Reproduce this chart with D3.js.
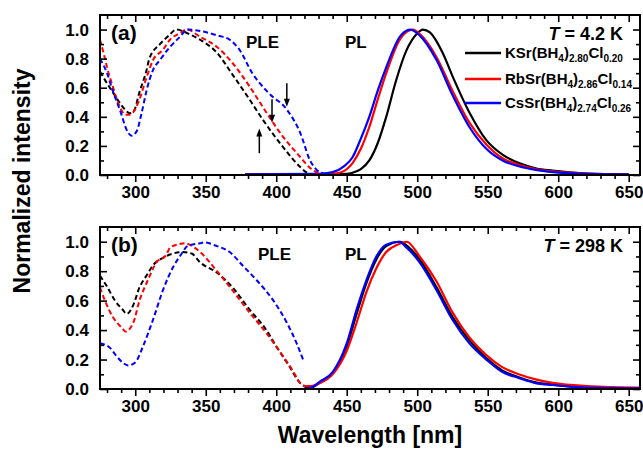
<!DOCTYPE html>
<html>
<head>
<meta charset="utf-8">
<script src="https://cdn.jsdelivr.net/npm/d3@7"></script>
<style>
  body { margin: 0; background: #fff; }
  svg { font-family: "Liberation Sans", Arial, sans-serif; font-weight: bold; }
</style>
</head>
<body>
<div id="chart"></div>
<script>
// ---- data ----
const seriesNames = ["KSr(BH4)2.80Cl0.20", "RbSr(BH4)2.86Cl0.14", "CsSr(BH4)2.74Cl0.26"];
const seriesColors = ["#000000", "#ff0000", "#0000ff"];

// panel (a) T = 4.2 K, PLE (dashed)
const pleA_K_wl = [275, 280, 284, 288, 292.7, 296, 299, 303, 308, 310, 317.5, 324, 329, 338, 346, 358, 369, 381, 390.5, 405, 417, 422, 428, 490];
const pleA_K_v  = [0.71, 0.63, 0.57, 0.51, 0.45, 0.425, 0.44, 0.57, 0.72, 0.80, 0.90, 0.96, 1.0, 0.97, 0.93, 0.84, 0.69, 0.52, 0.38, 0.19, 0.055, 0.015, 0.0, 0.0];
const pleA_Rb_wl = [275, 278, 280, 284, 289, 293, 296, 298.5, 303, 308, 312.6, 319.6, 324.6, 331.7, 336.6, 346, 358, 369, 381, 393, 405, 417, 424, 431, 436, 490];
const pleA_Rb_v  = [0.93, 0.82, 0.74, 0.61, 0.47, 0.415, 0.415, 0.43, 0.52, 0.67, 0.79, 0.86, 0.93, 0.975, 1.0, 0.95, 0.88, 0.77, 0.61, 0.43, 0.26, 0.124, 0.048, 0.01, 0.0, 0.0];
const pleA_Cs_wl = [275, 280, 284, 289, 295, 297.5, 301, 304.6, 308, 312.5, 317.5, 324.6, 331.7, 337, 346, 358, 367, 374, 383, 395, 407.5, 417, 424, 428.7, 434, 440, 490];
const pleA_Cs_v  = [0.80, 0.70, 0.58, 0.45, 0.29, 0.27, 0.30, 0.43, 0.58, 0.72, 0.79, 0.88, 0.95, 1.0, 0.99, 0.96, 0.93, 0.86, 0.70, 0.56, 0.45, 0.29, 0.10, 0.035, 0.01, 0.0, 0.0];

// panel (a) PL (solid)
const plA_K_wl = [378, 440, 450, 454, 460, 466, 472, 478, 485, 492.5, 499.6, 504, 509, 518, 525, 537, 549, 560.5, 572.6, 584.6, 596, 620, 650];
const plA_K_v  = [0.005, 0.005, 0.008, 0.015, 0.04, 0.10, 0.22, 0.40, 0.65, 0.86, 0.97, 1.0, 0.98, 0.84, 0.68, 0.43, 0.24, 0.14, 0.08, 0.045, 0.03, 0.01, 0.003];
const plA_Rb_wl = [378, 430, 440, 445, 454, 460, 466, 472, 478, 487.6, 494.6, 497, 501.7, 513.7, 525, 537, 549, 560.5, 572, 584, 596, 620, 650];
const plA_Rb_v  = [0.005, 0.005, 0.008, 0.015, 0.08, 0.18, 0.33, 0.52, 0.70, 0.93, 0.995, 1.0, 0.97, 0.81, 0.58, 0.36, 0.21, 0.115, 0.07, 0.04, 0.025, 0.01, 0.005];
const plA_Cs_wl = [378, 430, 440, 448, 454, 460, 466, 472, 478, 487.6, 495, 501.7, 513.7, 525, 537, 549, 560.5, 572, 584, 596, 620, 650];
const plA_Cs_v  = [0.005, 0.008, 0.02, 0.06, 0.12, 0.25, 0.40, 0.58, 0.74, 0.95, 1.0, 0.96, 0.79, 0.55, 0.33, 0.18, 0.10, 0.06, 0.035, 0.02, 0.008, 0.004];

// panel (b) T = 298 K, PLE (dashed)
const pleB_K_wl = [275, 280, 285.6, 291, 294, 298.6, 303, 308, 312.6, 319.6, 326.8, 333.9, 340, 346, 358, 369, 381, 393, 400, 409.6, 417, 420];
const pleB_K_v  = [0.77, 0.695, 0.60, 0.54, 0.51, 0.57, 0.69, 0.77, 0.84, 0.89, 0.92, 0.93, 0.92, 0.86, 0.79, 0.69, 0.54, 0.40, 0.29, 0.15, 0.04, 0.02];
const pleB_Rb_wl = [275, 278.5, 284, 291, 293, 298.6, 303, 309, 315, 322, 324.6, 331.7, 335, 342, 346, 358, 369, 381, 393, 405, 412, 417, 420];
const pleB_Rb_v  = [0.69, 0.60, 0.49, 0.41, 0.39, 0.45, 0.60, 0.74, 0.86, 0.91, 0.96, 0.985, 0.99, 0.96, 0.93, 0.80, 0.67, 0.52, 0.38, 0.22, 0.12, 0.04, 0.02];
const pleB_Cs_wl = [275, 282, 287, 291, 295, 300, 305.5, 312.6, 319.6, 327, 333, 337, 346, 349, 358, 367, 376, 386, 398, 407.5, 414.5, 419];
const pleB_Cs_v  = [0.31, 0.28, 0.22, 0.18, 0.16, 0.18, 0.29, 0.47, 0.67, 0.83, 0.92, 0.97, 0.99, 0.995, 0.97, 0.93, 0.84, 0.74, 0.60, 0.45, 0.31, 0.20];

// panel (b) PL (solid)
const plB_K_wl = [420, 425, 431, 440, 450, 457, 464, 471, 478, 488, 493, 501.7, 513.7, 525, 537, 549, 560.5, 572, 584, 596, 620, 650, 658];
const plB_K_v  = [0.01, 0.012, 0.045, 0.11, 0.29, 0.51, 0.72, 0.88, 0.97, 1.0, 0.97, 0.88, 0.69, 0.49, 0.33, 0.21, 0.125, 0.08, 0.045, 0.03, 0.012, 0.006, 0.006];
const plB_Rb_wl = [420, 425, 431, 440, 450, 457, 464, 471, 478, 486, 492.5, 501.7, 513.7, 525, 537, 549, 560, 572, 584, 596, 620, 652, 658];
const plB_Rb_v  = [0.02, 0.02, 0.04, 0.10, 0.26, 0.45, 0.66, 0.82, 0.93, 0.98, 1.0, 0.90, 0.73, 0.52, 0.35, 0.23, 0.15, 0.10, 0.065, 0.042, 0.02, 0.01, 0.01];
const plB_Cs_wl = [420, 425, 431, 440, 450, 457, 464, 471, 478, 487, 492.5, 501.7, 513.7, 525, 537, 549, 560.5, 572, 584, 596, 620, 650, 658];
const plB_Cs_v  = [0.0, 0.01, 0.05, 0.115, 0.31, 0.54, 0.74, 0.90, 0.98, 1.0, 0.96, 0.86, 0.67, 0.47, 0.31, 0.20, 0.115, 0.075, 0.04, 0.027, 0.01, 0.005, 0.005];

// arrows in panel (a)
const arrowWl = [388, 397, 407.5];
const arrowFrom = [0.15, 0.52, 0.63];
const arrowTo = [0.32, 0.36, 0.47];

const xTicks = [300, 350, 400, 450, 500, 550, 600, 650];
const yTicks = [0.0, 0.2, 0.4, 0.6, 0.8, 1.0];

// ---- layout ----
const width = 643, height = 450;
const svg = d3.select("#chart").append("svg")
  .attr("width", width).attr("height", height);

const x = d3.scaleLinear().domain([275, 658]).range([100, 640]);

const zip = (w, v) => w.map((d, i) => ({wl: d, v: v[i]}));

const panels = [
  {
    id: "a", top: 15, bottom: 175, label: "(a)", temp: "4.2 K", pleX: 246, legend: true,
    ple: [zip(pleA_K_wl, pleA_K_v), zip(pleA_Rb_wl, pleA_Rb_v), zip(pleA_Cs_wl, pleA_Cs_v)],
    pl: [zip(plA_K_wl, plA_K_v), zip(plA_Rb_wl, plA_Rb_v), zip(plA_Cs_wl, plA_Cs_v)]
  },
  {
    id: "b", top: 227, bottom: 389, label: "(b)", temp: "298 K", pleX: 258, legend: false,
    ple: [zip(pleB_K_wl, pleB_K_v), zip(pleB_Rb_wl, pleB_Rb_v), zip(pleB_Cs_wl, pleB_Cs_v)],
    pl: [zip(plB_K_wl, plB_K_v), zip(plB_Rb_wl, plB_Rb_v), zip(plB_Cs_wl, plB_Cs_v)]
  }
];

panels.forEach(p => {
  const y = d3.scaleLinear().domain([0, 1.1]).range([p.bottom, p.top]);
  const g = svg.append("g");

  svg.append("clipPath").attr("id", "clip-" + p.id)
    .append("rect").attr("x", 100).attr("y", p.top).attr("width", 540).attr("height", p.bottom - p.top);

  const line = d3.line().x(d => x(d.wl)).y(d => y(d.v)).curve(d3.curveMonotoneX);

  const curves = g.append("g").attr("clip-path", `url(#clip-${p.id})`).attr("fill", "none");
  // PL solid first, PLE dashed
  p.pl.forEach((s, i) => {
    curves.append("path").datum(s).attr("d", line)
      .attr("stroke", seriesColors[i]).attr("stroke-width", 2.2);
  });
  p.ple.forEach((s, i) => {
    curves.append("path").datum(s).attr("d", line)
      .attr("stroke", seriesColors[i]).attr("stroke-width", 2)
      .attr("stroke-dasharray", "5,3");
  });

  // axes: bottom ticks outward, the rest inward
  const minorX = d3.range(280, 660, 10).filter(t => t % 50);
  const minorY = [0.1, 0.3, 0.5, 0.7, 0.9];
  const bottomAxis = d3.axisBottom(x).tickValues(xTicks).tickSize(7).tickSizeOuter(0).tickPadding(4);
  const bottomMinor = d3.axisBottom(x).tickValues(minorX).tickSize(4).tickSizeOuter(0).tickFormat("");
  const topAxis = d3.axisBottom(x).tickValues(xTicks).tickSize(7).tickSizeOuter(0).tickFormat("");
  const topMinor = d3.axisBottom(x).tickValues(minorX).tickSize(4).tickSizeOuter(0).tickFormat("");
  const leftAxis = d3.axisRight(y).tickValues(yTicks).tickSize(7).tickSizeOuter(0).tickFormat("");
  const leftMinor = d3.axisRight(y).tickValues(minorY).tickSize(4).tickSizeOuter(0).tickFormat("");
  const rightAxis = d3.axisLeft(y).tickValues(yTicks).tickSize(7).tickSizeOuter(0).tickFormat("");
  const rightMinor = d3.axisLeft(y).tickValues(minorY).tickSize(4).tickSizeOuter(0).tickFormat("");

  const axG = g.append("g");
  axG.append("g").attr("transform", `translate(0,${p.bottom})`).call(bottomAxis);
  axG.append("g").attr("transform", `translate(0,${p.bottom})`).call(bottomMinor);
  axG.append("g").attr("transform", `translate(0,${p.top})`).call(topAxis);
  axG.append("g").attr("transform", `translate(0,${p.top})`).call(topMinor);
  axG.append("g").attr("transform", `translate(100,0)`).call(leftAxis);
  axG.append("g").attr("transform", `translate(100,0)`).call(leftMinor);
  axG.append("g").attr("transform", `translate(640,0)`).call(rightAxis);
  axG.append("g").attr("transform", `translate(640,0)`).call(rightMinor);
  axG.selectAll(".domain").remove();
  axG.selectAll(".tick line").attr("stroke", "#000").attr("stroke-width", 1.6);
  axG.selectAll("text").attr("font-size", 17).attr("font-weight", "bold")
    .attr("font-family", '"Liberation Sans", Arial, sans-serif').attr("fill", "#000");

  // y labels
  yTicks.forEach(t => {
    g.append("text").attr("x", 89).attr("y", y(t)).attr("dy", "0.36em")
      .attr("text-anchor", "end").attr("font-size", 17).text(t.toFixed(1));
  });

  // frame
  g.append("rect").attr("x", 100).attr("y", p.top).attr("width", 540).attr("height", p.bottom - p.top)
    .attr("fill", "none").attr("stroke", "#000").attr("stroke-width", 2);

  // annotations
  g.append("text").attr("x", 111).attr("y", p.top + 25).attr("font-size", 21).text(p.label);
  g.append("text").attr("x", p.pleX).attr("y", p.top + 33).attr("font-size", 17).text("PLE");
  g.append("text").attr("x", 345).attr("y", p.top + 33).attr("font-size", 17).text("PL");
  const t = g.append("text").attr("x", 623).attr("y", p.top + 25).attr("text-anchor", "end").attr("font-size", 18);
  t.append("tspan").attr("font-style", "italic").text("T");
  t.append("tspan").text(" = " + p.temp);

  if (p.legend) {
    const legY = [53, 79, 103];
    const parts = [
      ["KSr(BH", "4", ")", "2.80", "Cl", "0.20"],
      ["RbSr(BH", "4", ")", "2.86", "Cl", "0.14"],
      ["CsSr(BH", "4", ")", "2.74", "Cl", "0.26"]
    ];
    seriesNames.forEach((name, i) => {
      g.append("line").attr("x1", 465).attr("x2", 501).attr("y1", legY[i]).attr("y2", legY[i])
        .attr("stroke", seriesColors[i]).attr("stroke-width", 2.5);
      const tx = g.append("text").attr("x", 505).attr("y", legY[i] + 5).attr("font-size", 15);
      parts[i].forEach((s, k) => {
        const sub = k % 2 === 1;
        tx.append("tspan").attr("font-size", sub ? 10 : 15)
          .attr("dy", sub ? 4 : (k === 0 ? 0 : -4)).text(s);
      });
    });

    // arrows
    arrowWl.forEach((w, i) => {
      const ax = x(w), y0 = y(arrowFrom[i]), y1 = y(arrowTo[i]);
      const dir = y1 < y0 ? 1 : -1;
      g.append("line").attr("x1", ax).attr("x2", ax).attr("y1", y0).attr("y2", y1 + dir * 6)
        .attr("stroke", "#000").attr("stroke-width", 1.5);
      g.append("path")
        .attr("d", `M${ax},${y1} L${ax - 3},${y1 + dir * 8} L${ax + 3},${y1 + dir * 8} Z`)
        .attr("fill", "#000");
    });
  }
});

// axis titles
svg.append("text").attr("x", 370).attr("y", 443).attr("text-anchor", "middle")
  .attr("font-size", 23).text("Wavelength [nm]");
svg.append("text").attr("transform", "translate(30,181) rotate(-90)").attr("text-anchor", "middle")
  .attr("font-size", 23).text("Normalized intensity");
</script>
</body>
</html>
